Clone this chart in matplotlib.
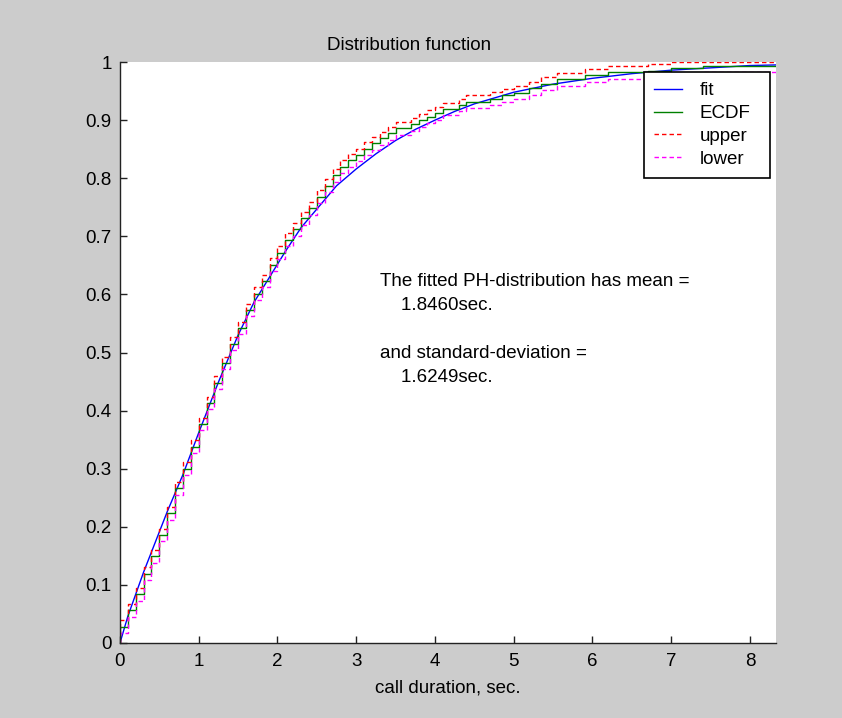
import numpy as np
import matplotlib
matplotlib.use("Agg")
import matplotlib.pyplot as plt

# ECDF of call durations: each level holds from its x up to the next x
step_x = [0.0, 0.1, 0.2, 0.3, 0.4, 0.5, 0.6, 0.7, 0.8, 0.9,
          1.0, 1.1, 1.2, 1.3, 1.4, 1.5, 1.6, 1.7, 1.8, 1.9,
          2.0, 2.1, 2.2, 2.3, 2.4, 2.5, 2.6, 2.7, 2.8, 2.9,
          3.0, 3.1, 3.2, 3.3, 3.4, 3.5, 3.7, 3.8, 3.9, 4.0,
          4.1, 4.3, 4.4, 4.7, 4.85, 5.0, 5.2, 5.35, 5.55, 5.9,
          6.2, 6.7, 7.0, 7.4]
ecdf = [0.028, 0.056, 0.084, 0.119, 0.149, 0.186, 0.223, 0.266, 0.300, 0.338,
        0.377, 0.413, 0.448, 0.482, 0.515, 0.542, 0.573, 0.601, 0.623, 0.651,
        0.672, 0.694, 0.712, 0.731, 0.748, 0.768, 0.787, 0.805, 0.820, 0.831,
        0.840, 0.851, 0.860, 0.869, 0.877, 0.886, 0.893, 0.900, 0.906, 0.912,
        0.919, 0.926, 0.932, 0.937, 0.943, 0.947, 0.955, 0.963, 0.970, 0.977,
        0.982, 0.985, 0.989, 0.993]
upper = [0.039, 0.067, 0.095, 0.130, 0.160, 0.197, 0.234, 0.277, 0.311, 0.349,
         0.388, 0.424, 0.459, 0.493, 0.526, 0.553, 0.584, 0.612, 0.634, 0.662,
         0.683, 0.705, 0.723, 0.742, 0.759, 0.779, 0.798, 0.816, 0.831, 0.842,
         0.851, 0.862, 0.871, 0.880, 0.888, 0.897, 0.904, 0.911, 0.917, 0.923,
         0.930, 0.937, 0.943, 0.948, 0.954, 0.958, 0.966, 0.974, 0.981, 0.988,
         0.993, 0.996, 1.000, 1.000]
lower = [0.017, 0.045, 0.073, 0.108, 0.138, 0.175, 0.212, 0.255, 0.289, 0.327,
         0.366, 0.402, 0.437, 0.471, 0.504, 0.531, 0.562, 0.590, 0.612, 0.640,
         0.661, 0.683, 0.701, 0.720, 0.737, 0.757, 0.776, 0.794, 0.809, 0.820,
         0.829, 0.840, 0.849, 0.858, 0.866, 0.875, 0.882, 0.889, 0.895, 0.901,
         0.908, 0.915, 0.921, 0.926, 0.932, 0.936, 0.944, 0.952, 0.959, 0.966,
         0.971, 0.974, 0.978, 0.982]
x_end = 8.33

# fitted PH distribution function
fit_x = [0.0, 0.1, 0.3, 0.45, 0.6, 0.8, 1.0, 1.25, 1.5, 1.7,
         1.9, 2.1, 2.3, 2.5, 2.75, 3.0, 3.25, 3.5, 3.75, 4.0,
         4.25, 4.5, 5.0, 5.5, 6.0, 6.5, 7.0, 7.5, 8.0, 8.33]
fit_y = [0.0, 0.046, 0.122, 0.174, 0.226, 0.290, 0.362, 0.449, 0.530, 0.586,
         0.630, 0.674, 0.715, 0.747, 0.787, 0.816, 0.842, 0.865, 0.884, 0.900,
         0.915, 0.928, 0.948, 0.962, 0.972, 0.980, 0.986, 0.990, 0.994, 0.995]

fit_mean = 1.8460
fit_std = 1.6249

plt.rcParams['font.family'] = ['Liberation Sans', 'DejaVu Sans']
plt.rcParams['font.size'] = 13.5

grey = '#cccccc'
fig = plt.figure(figsize=(8.42, 7.18), dpi=100, facecolor=grey)
ax = fig.add_axes([0.1425, 0.1045, 0.7791, 0.8091])
ax.set_facecolor('white')


def stairs(xs, ys):
    # start from zero and carry the last level to the right edge
    sx = [0.0] + list(xs) + [x_end]
    sy = [0.0] + list(ys) + [ys[-1]]
    return sx, sy


lw = 1.0
dash = (0, (3.2, 2.2))
ax.plot(fit_x, fit_y, color=(0, 0, 1), lw=lw, label='fit')
sx, sy = stairs(step_x, ecdf)
ax.step(sx, sy, where='post', color=(0, 0.5, 0), lw=lw, label='ECDF')
sx, sy = stairs(step_x, upper)
ax.step(sx, sy, where='post', color=(1, 0, 0), lw=lw, ls=dash, label='upper')
sx, sy = stairs(step_x, lower)
ax.step(sx, sy, where='post', color=(1, 0, 1), lw=lw, ls=dash, label='lower')

ax.set_xlim(0, x_end)
ax.set_ylim(0, 1)
ax.set_xticks(np.arange(0, 9, 1))
ax.set_yticks(np.arange(0, 1.01, 0.1))
ax.set_yticklabels(['0'] + ['%.1f' % v for v in np.arange(0.1, 0.95, 0.1)] + ['1'])

for side in ('top', 'right'):
    ax.spines[side].set_visible(False)
for side in ('left', 'bottom'):
    ax.spines[side].set_color('#222222')
    ax.spines[side].set_linewidth(1.0)
ax.tick_params(direction='in', length=5, width=1.0, color='#222222')
ax.tick_params(axis='y', pad=6)
ax.tick_params(axis='x', pad=7)

ax.set_title('Distribution function', x=0.44, pad=9, fontsize=13.5)
ax.set_xlabel('call duration, sec.', labelpad=7)

note = ('The fitted PH-distribution has mean =\n    %.4fsec.\n\n'
        'and standard-deviation =\n    %.4fsec.' % (fit_mean, fit_std))
ax.text(3.3, 0.636, note, ha='left', va='top', linespacing=1.52)

leg = ax.legend(loc='upper left', bbox_to_anchor=(0.799, 0.5, 0.192, 0.483),
                mode='expand', fancybox=False, framealpha=1, edgecolor='black',
                handlelength=1.45, handletextpad=0.95, labelspacing=0.3,
                borderpad=0.55, borderaxespad=0)
leg.get_frame().set_linewidth(1.2)

fig.savefig('out.png', dpi=100, facecolor=grey)
